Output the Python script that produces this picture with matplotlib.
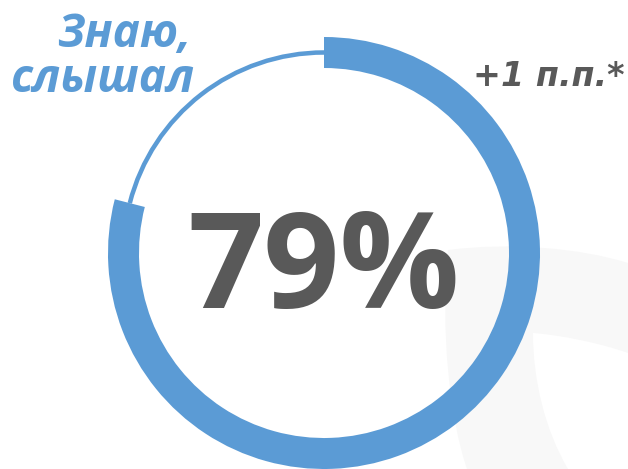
import matplotlib
matplotlib.use("Agg")
import matplotlib.pyplot as plt
from matplotlib.patches import Wedge, PathPatch
from matplotlib.path import Path

# Data
value = 79  # percent
value_label = "79%"
category_label = ["Знаю,", "слышал"]
change_label = "+1 п.п.*"

BLUE = "#5b9bd5"
GRAY = "#595959"

fig = plt.figure(figsize=(6.28, 4.69), dpi=100)
ax = fig.add_axes([0, 0, 1, 1])
ax.set_xlim(0, 628)
ax.set_ylim(469, 0)
ax.set_aspect("equal")
ax.axis("off")

# faint decorative background shape (watermark)
verts = [(448, 250),
         (510, 242), (580, 248), (628, 263),
         (628, 353),
         (600, 343), (560, 335), (533, 333),
         (533, 380), (545, 430), (568, 469),
         (467, 469),
         (450, 420), (440, 330), (448, 250)]
codes = [Path.MOVETO,
         Path.CURVE4, Path.CURVE4, Path.CURVE4,
         Path.LINETO,
         Path.CURVE4, Path.CURVE4, Path.CURVE4,
         Path.CURVE4, Path.CURVE4, Path.CURVE4,
         Path.LINETO,
         Path.CURVE4, Path.CURVE4, Path.CURVE4]
ax.add_patch(PathPatch(Path(verts, codes), facecolor="#f8f8f8",
                       edgecolor="none", zorder=0))

cx, cy = 324, 253
r_out, width = 216, 31
r_mid = r_out - width / 2
start = -90
end = start + 360 * value / 100

ax.add_patch(Wedge((cx, cy), r_out, start, end, width=width,
                   facecolor=BLUE, edgecolor="none", zorder=2))
thin = 4.5
ax.add_patch(Wedge((cx, cy), r_mid + thin / 2, end, start + 360, width=thin,
                   facecolor=BLUE, edgecolor="none", zorder=1))

ax.text(324, 308, value_label, ha="center", va="baseline", fontsize=96,
        fontweight="bold", color=GRAY, family="Open Sans", zorder=3)

ax.text(191, 47, category_label[0], ha="right", va="baseline", fontsize=33,
        fontweight="bold", fontstyle="italic", color=BLUE, family="Open Sans")
ax.text(195, 92, category_label[1], ha="right", va="baseline", fontsize=33,
        fontweight="bold", fontstyle="italic", color=BLUE, family="Open Sans")

ax.text(625, 86, change_label, ha="right", va="baseline", fontsize=24,
        fontweight="bold", fontstyle="oblique", color=GRAY, family="DejaVu Sans")

fig.savefig("out.png", dpi=100, facecolor="white")
